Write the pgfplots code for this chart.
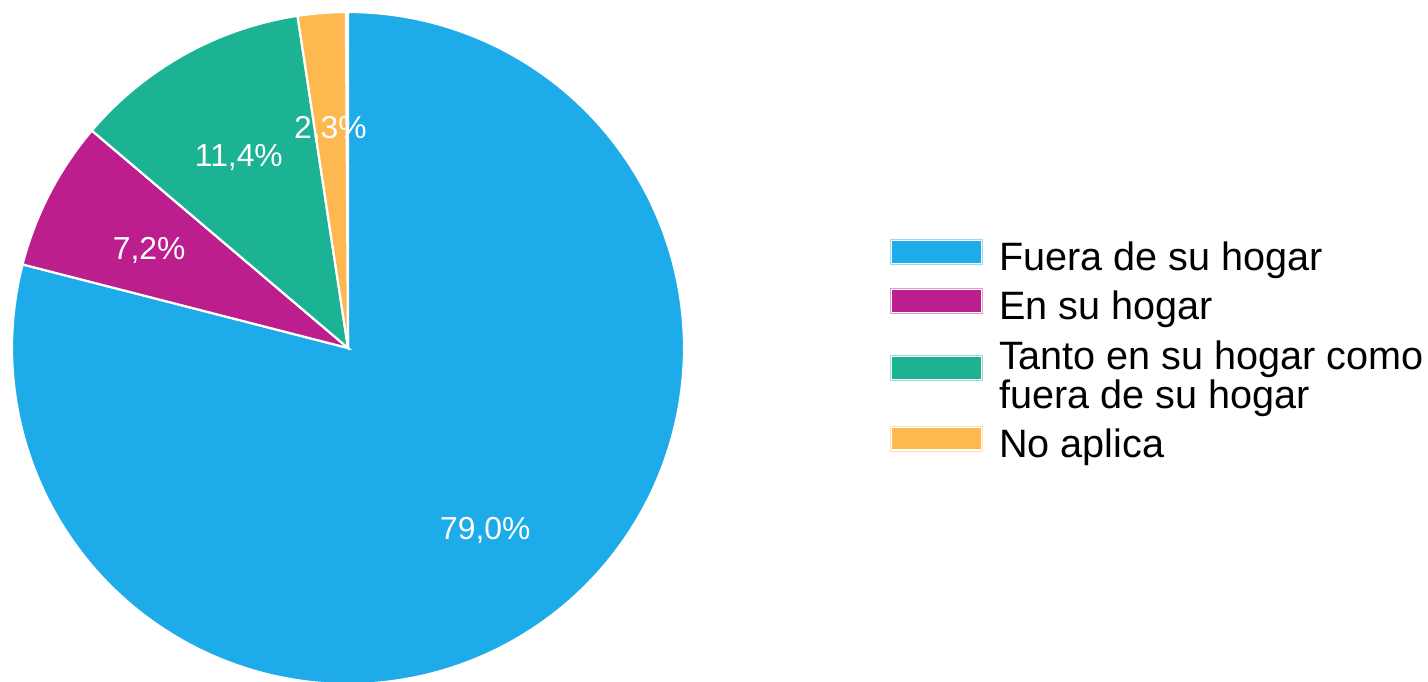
\documentclass[border=0pt]{standalone}
\usepackage{pgfplots}
\pgfplotsset{compat=1.18}
\usepackage{fontspec}
\setmainfont{Liberation Sans}
\definecolor{cF}{RGB}{29,171,233}
\definecolor{cE}{RGB}{188,30,142}
\definecolor{cT}{RGB}{27,179,148}
\definecolor{cN}{RGB}{253,185,80}
% data (percent)
\def\vF{79.0}
\def\vE{7.2}
\def\vT{11.4}
\def\vN{2.3}
\def\cx{348}\def\cy{333}\def\R{336}\def\rl{224}
\pgfmathsetmacro\aA{90}
\pgfmathsetmacro\aB{\aA-\vF*3.6}
\pgfmathsetmacro\aC{\aB-\vE*3.6}
\pgfmathsetmacro\aD{\aC-\vT*3.6}
\pgfmathsetmacro\aE{\aD-\vN*3.6}
\pgfmathsetmacro\mF{(\aA+\aB)/2}
\pgfmathsetmacro\mE{(\aB+\aC)/2}
\pgfmathsetmacro\mT{(\aC+\aD)/2}
\pgfmathsetmacro\mN{(\aD+\aE)/2}
\begin{document}
\begin{tikzpicture}
\begin{axis}[
  x=0.5pt, y=0.5pt, xmin=0, xmax=1428, ymin=0, ymax=681,
  hide axis, clip=true,
  legend image code/.code={
    \fill[#1, draw=none, fill opacity=0.45] (0pt,-3.5pt) rectangle (46.5pt,9.5pt);
    \fill[white, draw=none] (0.5pt,-3pt) rectangle (46pt,9pt);
    \fill[#1, draw=none] (1.1pt,-2.4pt) rectangle (45.4pt,8.4pt);},
  legend cell align=left,
  legend style={draw=none, fill=none, inner sep=0pt, outer sep=0pt,
    at={(axis cs:890,442)}, anchor=north west,
    row sep=7pt, column sep=8pt,
    font=\fontsize{19.8}{19.5}\selectfont,
    nodes={inner sep=0pt, align=left}},
]
\path (rel axis cs:0,0) rectangle (rel axis cs:1,1);
\addplot[fill=cF, draw=white, line width=1.1pt, domain=\aB:\aA, samples=240, variable=\t, forget plot]
  ({\cx+\R*cos(\t)}, {\cy+\R*sin(\t)}) -- (axis cs:\cx,\cy) -- cycle;
\addplot[fill=cE, draw=white, line width=1.1pt, domain=\aC:\aB, samples=40, variable=\t, forget plot]
  ({\cx+\R*cos(\t)}, {\cy+\R*sin(\t)}) -- (axis cs:\cx,\cy) -- cycle;
\addplot[fill=cT, draw=white, line width=1.1pt, domain=\aD:\aC, samples=60, variable=\t, forget plot]
  ({\cx+\R*cos(\t)}, {\cy+\R*sin(\t)}) -- (axis cs:\cx,\cy) -- cycle;
\addplot[fill=cN, draw=white, line width=1.1pt, domain=\aE:\aD, samples=20, variable=\t, forget plot]
  ({\cx+\R*cos(\t)}, {\cy+\R*sin(\t)}) -- (axis cs:\cx,\cy) -- cycle;
\addlegendimage{fill=cF}
\addlegendimage{fill=cE}
\addlegendimage{fill=cT}
\addlegendimage{fill=cN}
\legend{Fuera de su hogar, En su hogar, {\rule{0pt}{16.5pt}Tanto en su hogar como\\fuera de su hogar}, No aplica}
\begin{scope}[every node/.style={text=white, yshift=-2.5pt, font=\fontsize{15.9}{16}\selectfont}]
\node at (axis cs:{\cx+\rl*cos(\mF)},{\cy+\rl*sin(\mF)}) {79,0\%};
\node at (axis cs:{\cx+\rl*cos(\mE)},{\cy+\rl*sin(\mE)}) {7,2\%};
\node at (axis cs:{\cx+\rl*cos(\mT)},{\cy+\rl*sin(\mT)}) {11,4\%};
\node at (axis cs:{\cx+\rl*cos(\mN)},{\cy+\rl*sin(\mN)}) {2,3\%};
\end{scope}
\end{axis}
\end{tikzpicture}
\end{document}
